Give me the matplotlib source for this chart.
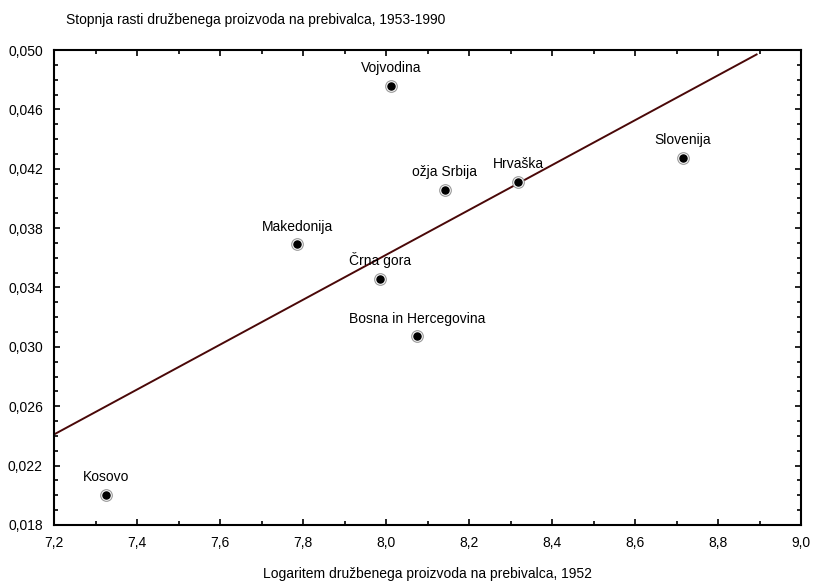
import matplotlib
matplotlib.use("Agg")
import matplotlib.pyplot as plt
from matplotlib.ticker import MultipleLocator, FuncFormatter

# values
regions = ["Kosovo", "Makedonija", "Črna gora", "Bosna in Hercegovina",
           "Vojvodina", "ožja Srbija", "Hrvaška", "Slovenija"]
log_gdp_1952 = [7.325, 7.786, 7.985, 8.075, 8.012, 8.142, 8.319, 8.716]
growth_rate = [0.0200, 0.0369, 0.0346, 0.0307, 0.0476, 0.0406, 0.0411, 0.0427]

# fitted line as drawn in the reference (end points)
fit_x = [7.2, 8.893]
fit_y = [0.0241, 0.0497]

plt.rcParams['font.family'] = ['Liberation Sans', 'DejaVu Sans']
plt.rcParams['font.size'] = 10

fig = plt.figure(figsize=(8.14, 5.84), dpi=100)
ax = fig.add_axes([54 / 814, 1 - 525 / 584, 747 / 814, 475 / 584])

ax.plot(fit_x, fit_y, color='#4a0808', linewidth=1.4, zorder=2)

# marker: black dot with white ring and thin grey outline
ax.scatter(log_gdp_1952, growth_rate, s=70, facecolor='white',
           edgecolor='#9a9a9a', linewidth=0.8, zorder=3)
ax.scatter(log_gdp_1952, growth_rate, s=26, color='black', zorder=4)

for name, x, y in zip(regions, log_gdp_1952, growth_rate):
    ax.annotate(name, (x, y), xytext=(0, 10), textcoords='offset points',
                ha='center', va='baseline', fontsize=10)

ax.set_xlim(7.2, 9.0)
ax.set_ylim(0.018, 0.050)
ax.xaxis.set_major_locator(MultipleLocator(0.2))
ax.xaxis.set_minor_locator(MultipleLocator(0.1))
ax.yaxis.set_major_locator(MultipleLocator(0.004, offset=0.002))
ax.yaxis.set_minor_locator(MultipleLocator(0.001))
ax.xaxis.set_major_formatter(FuncFormatter(lambda v, p: f"{v:.1f}".replace('.', ',')))
ax.yaxis.set_major_formatter(FuncFormatter(lambda v, p: f"{v:.3f}".replace('.', ',')))

ax.tick_params(which='both', direction='in', top=True, right=True,
               width=1.2, colors='black', labelsize=10)
ax.tick_params(which='major', length=4, pad=8)
ax.tick_params(which='minor', length=3)
for s in ax.spines.values():
    s.set_linewidth(1.5)

ax.set_xlabel("Logaritem družbenega proizvoda na prebivalca, 1952", labelpad=12)
fig.text(66 / 814, 1 - 20 / 584, "Stopnja rasti družbenega proizvoda na prebivalca, 1953-1990",
         ha='left', va='center', fontsize=10)

fig.savefig("out.png", dpi=100)
